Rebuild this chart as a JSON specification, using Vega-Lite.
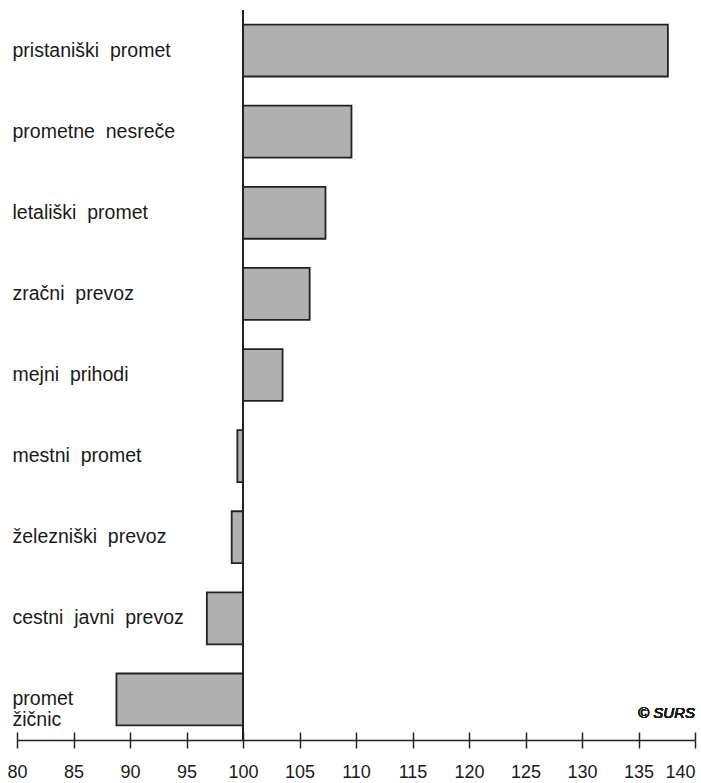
{
  "$schema": "https://vega.github.io/schema/vega-lite/v6.json",
  "width": 678,
  "height": 730,
  "autosize": "none",
  "padding": {"left": 17, "top": 10, "right": 6, "bottom": 43},
  "background": "white",
  "view": {"stroke": null},
  "data": {
    "values": [
      {"kategorija": "pristaniški promet", "indeks": 137.6},
      {"kategorija": "prometne nesreče", "indeks": 109.6},
      {"kategorija": "letališki promet", "indeks": 107.3},
      {"kategorija": "zračni prevoz", "indeks": 105.9},
      {"kategorija": "mejni prihodi", "indeks": 103.5},
      {"kategorija": "mestni promet", "indeks": 99.5},
      {"kategorija": "železniški prevoz", "indeks": 99.0},
      {"kategorija": "cestni javni prevoz", "indeks": 96.8},
      {"kategorija": "promet žičnic", "indeks": 88.8}
    ]
  },
  "layer": [
    {
      "mark": {"type": "bar", "fill": "#b0b0b0", "stroke": "#222222", "strokeWidth": 1.8},
      "encoding": {
        "y": {
          "field": "kategorija",
          "type": "nominal",
          "sort": null,
          "scale": {"paddingInner": 0.36, "paddingOuter": 0.18},
          "axis": {
            "title": null,
            "domain": false,
            "ticks": false,
            "tickSize": 0,
            "labelAlign": "left",
            "labelPadding": 5,
            "labelFont": "Liberation Sans",
            "labelFontSize": 19.5,
            "labelColor": "#1a1a1a",
            "labelLimit": 0,
            "labelLineHeight": 21,
            "labelExpr": "datum.label == 'promet žičnic' ? ['promet', 'žičnic'] : replace(datum.label, / /g, '\u00a0 ')"
          }
        },
        "x": {
          "field": "indeks",
          "type": "quantitative",
          "scale": {"domain": [80, 140], "nice": false, "zero": false},
          "axis": {
            "orient": "bottom",
            "title": null,
            "grid": true,
            "gridColor": "#222222",
            "gridWidth": 1.5,
            "gridDash": [8, 2000],
            "gridOpacity": 1,
            "values": [80, 85, 90, 95, 100, 105, 110, 115, 120, 125, 130, 135, 140],
            "domain": true,
            "domainColor": "#222222",
            "domainWidth": 1.5,
            "tickColor": "#222222",
            "tickWidth": 1.5,
            "tickSize": 8,
            "labelPadding": 15,
            "labelFont": "Liberation Sans",
            "labelFontSize": 18,
            "labelColor": "#1a1a1a",
            "labelAlign": {"expr": "datum.value == 140 ? 'right' : 'center'"}
          }
        },
        "x2": {"datum": 100}
      }
    },
    {
      "mark": {"type": "rule", "stroke": "#222222", "strokeWidth": 1.5},
      "encoding": {
        "x": {"datum": 100, "type": "quantitative"}
      }
    },
    {
      "mark": {
        "type": "text",
        "text": "© SURS",
        "align": "right",
        "dy": 14,
        "font": "Liberation Sans",
        "fontSize": 15,
        "fontStyle": "italic",
        "color": "#1a1a1a"
      },
      "encoding": {
        "x": {"datum": 140, "type": "quantitative"},
        "y": {"datum": "promet žičnic", "type": "nominal"}
      }
    }
  ]
}
